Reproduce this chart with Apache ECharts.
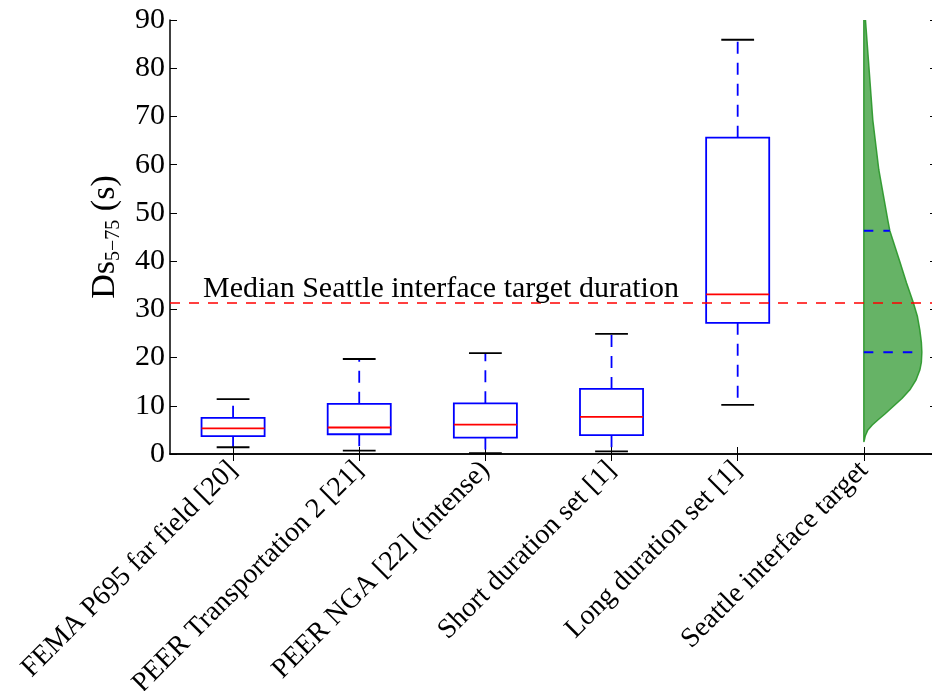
<!DOCTYPE html>
<html>
    <head>
        <meta charset="utf-8">
        <title>Ds5-75 boxplot</title>
        <script src="https://cdn.jsdelivr.net/npm/echarts@6.0.0/dist/echarts.min.js"></script>
        <style>
            body { margin: 0; background: #fff; }
            #chart1 { width: 932px; height: 691px; }
        </style>
    </head>
    <body>
        <div id="chart1"></div>
    </body>
    <script type="text/javascript">
        // 数据
        var categories = ['FEMA P695 far field [20]', 'PEER Transportation 2 [21]', 'PEER NGA [22] (intense)',
            'Short duration set [1]', 'Long duration set [1]', 'Seattle interface target'];
        var boxLow = [1.4, 0.7, 0.2, 0.55, 10.2];
        var boxQ1 = [3.7, 4.1, 3.4, 3.9, 27.2];
        var boxMedian = [5.3, 5.5, 6.1, 7.7, 33.1];
        var boxQ3 = [7.5, 10.4, 10.5, 13.5, 65.6];
        var boxHigh = [11.4, 19.7, 20.9, 24.9, 85.9];
        // Seattle target distribution (duration, half-violin width in x units)
        var seattleDur = [95, 90, 80.4, 69.3, 58.9, 48.5, 46.3, 39.5, 35.5, 31.4, 28.5, 25.7, 23.2, 21.1,
            19, 17.4, 15.3, 13.3, 11.5, 9.8, 8.3, 7.05, 6, 5, 3.8, 2.6];
        var seattleWidth = [0.009, 0.013, 0.040, 0.071, 0.119, 0.190, 0.206, 0.290, 0.338, 0.392, 0.425, 0.444,
            0.456, 0.460, 0.456, 0.444, 0.413, 0.365, 0.302, 0.230, 0.167, 0.111, 0.067, 0.032, 0.012, 0.002];
        var seattleBands = [46.3, 21.1];
        var seattleBandWidth = [0.206, 0.46];
        var targetMedian = 31.4;

        var serif = "'Liberation Serif', 'DejaVu Serif', serif";
        var positions = categories.map(function (c, i) { return i + 1; });

        var boxData = boxLow.map(function (v, i) {
            return [i + 1, boxLow[i], boxQ1[i], boxMedian[i], boxQ3[i], boxHigh[i]];
        });

        function renderBox(params, api) {
            var x = api.value(0);
            var low = api.coord([x, api.value(1)]);
            var q1 = api.coord([x, api.value(2)]);
            var med = api.coord([x, api.value(3)]);
            var q3 = api.coord([x, api.value(4)]);
            var high = api.coord([x, api.value(5)]);
            var boxW = api.size([0.5, 0])[0];
            var capW = api.size([0.26, 0])[0];
            var cx = q1[0];
            var whisker = { stroke: '#0000ff', lineWidth: 1.8, lineDash: [12, 9], fill: null };
            var cap = { stroke: '#000', lineWidth: 1.8 };
            return {
                type: 'group',
                children: [
                    { type: 'line', shape: { x1: cx, y1: q3[1], x2: cx, y2: high[1] }, style: whisker },
                    { type: 'line', shape: { x1: cx, y1: q1[1], x2: cx, y2: low[1] }, style: whisker },
                    { type: 'line', shape: { x1: cx - capW / 2, y1: high[1], x2: cx + capW / 2, y2: high[1] }, style: cap },
                    { type: 'line', shape: { x1: cx - capW / 2, y1: low[1], x2: cx + capW / 2, y2: low[1] }, style: cap },
                    { type: 'rect', shape: { x: cx - boxW / 2, y: q3[1], width: boxW, height: q1[1] - q3[1] },
                        style: { fill: 'none', stroke: '#0000ff', lineWidth: 1.8 } },
                    { type: 'line', shape: { x1: cx - boxW / 2, y1: med[1], x2: cx + boxW / 2, y2: med[1] },
                        style: { stroke: '#ff0000', lineWidth: 1.8 } }
                ]
            };
        }

        function renderDensity(params, api) {
            var x0 = api.value(0);
            var pts = [api.coord([x0, seattleDur[0]])];
            for (var i = 0; i < seattleDur.length; i++) {
                pts.push(api.coord([x0 + seattleWidth[i], seattleDur[i]]));
            }
            pts.push(api.coord([x0, seattleDur[seattleDur.length - 1]]));
            var children = [{
                type: 'polygon',
                shape: { points: pts },
                style: { fill: 'rgba(0,128,0,0.6)', stroke: 'rgba(40,150,40,0.9)', lineWidth: 1.5, lineJoin: 'round' }
            }];
            seattleBands.forEach(function (b, k) {
                var a = api.coord([x0, b]);
                var e = api.coord([x0 + seattleBandWidth[k], b]);
                children.push({ type: 'line', shape: { x1: a[0], y1: a[1], x2: e[0], y2: e[1] },
                    style: { stroke: '#0000ff', lineWidth: 1.8, lineDash: [9.5, 10] } });
            });
            return { type: 'group', children: children };
        }

        var myChart1 = echarts.init(document.getElementById('chart1'));
        var option = {
            animation: false,
            grid: { left: 170, right: -5, top: 20, bottom: 237, outerBoundsMode: 'none' },
            xAxis: [{
                type: 'value', min: 0.5, max: 6.58, position: 'bottom',
                splitLine: { show: false },
                axisLine: { show: true, lineStyle: { color: '#000', width: 1.5 } },
                axisTick: { show: true, inside: true, length: 7, customValues: positions, lineStyle: { color: '#000' } },
                axisLabel: {
                    customValues: positions, rotate: 45, margin: 12,
                    fontFamily: serif, fontSize: 28, color: '#000',
                    formatter: function (v) { return categories[Math.round(v) - 1]; }
                }
            }, {
                type: 'value', min: 0.5, max: 6.58, position: 'top',
                splitLine: { show: false },
                axisLine: { show: true, lineStyle: { color: '#000', width: 1.5 } },
                axisTick: { show: true, inside: true, length: 7, customValues: positions, lineStyle: { color: '#000' } },
                axisLabel: { show: false }
            }],
            yAxis: [{
                type: 'value', min: 0, max: 90, interval: 10, position: 'left',
                splitLine: { show: false },
                axisLine: { show: true, lineStyle: { color: '#000', width: 1.5 } },
                axisTick: { show: true, inside: true, length: 7, lineStyle: { color: '#000' } },
                axisLabel: { fontFamily: serif, fontSize: 30, color: '#000', margin: 5 },
                name: 'Ds{sub|5\u221275} (s)',
                nameLocation: 'middle', nameRotate: 90, nameGap: 41,
                nameTextStyle: {
                    fontFamily: serif, fontSize: 34, color: '#000', lineHeight: 38,
                    rich: { sub: { fontFamily: serif, fontSize: 20, lineHeight: 22, verticalAlign: 'bottom', color: '#000' } }
                }
            }, {
                type: 'value', min: 0, max: 90, interval: 10, position: 'right',
                splitLine: { show: false },
                axisLine: { show: true, lineStyle: { color: '#000', width: 1.5 } },
                axisTick: { show: true, inside: true, length: 7, lineStyle: { color: '#000' } },
                axisLabel: { show: false }
            }],
            series: [{
                type: 'custom',
                name: 'boxes',
                xAxisIndex: 0, yAxisIndex: 0,
                z: 2,
                renderItem: renderBox,
                data: boxData,
                markLine: {
                    silent: true, symbol: 'none',
                    lineStyle: { color: '#ff0000', type: [10, 9], width: 1.6 },
                    label: {
                        show: true, position: 'insideStartTop', distance: [33, -2],
                        formatter: 'Median Seattle interface target duration',
                        fontFamily: serif, fontSize: 30, color: '#000'
                    },
                    data: [{ yAxis: targetMedian }]
                }
            }, {
                type: 'custom',
                name: 'Seattle',
                xAxisIndex: 0, yAxisIndex: 0,
                z: 3,
                clip: true,
                renderItem: renderDensity,
                data: [[6]]
            }]
        };
        myChart1.setOption(option);
    </script>
</html>
